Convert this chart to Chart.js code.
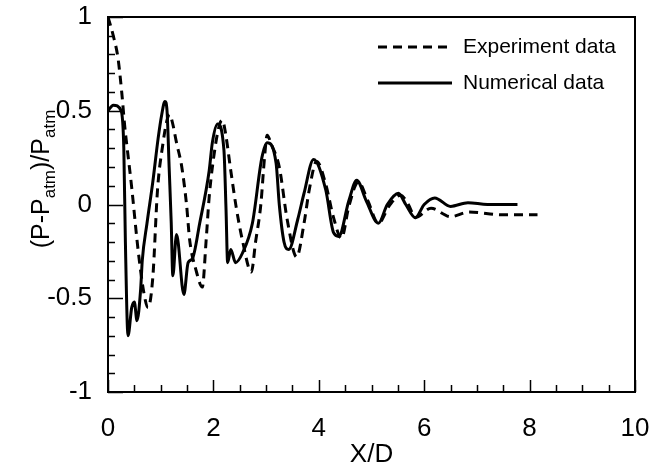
<!DOCTYPE html>
<html>
<head>
<meta charset="utf-8">
<script src="https://cdn.jsdelivr.net/npm/chart.js@4.4.0/dist/chart.umd.min.js"></script>
<style>
  body { margin: 0; background: #fff; }
  canvas { display: block; }
</style>
</head>
<body>
<canvas id="myChart" width="649" height="470"></canvas>
<script>
// tick values on each axis
var xTicks = [0, 2, 4, 6, 8, 10];
var yTicks = [-1, -0.5, 0, 0.5, 1];

// experiment (dashed)
var expX = [0, 0.1, 0.19, 0.26, 0.32, 0.36, 0.45, 0.57, 0.68, 0.76, 0.85, 0.94, 1.04, 1.12, 1.17, 1.22, 1.3, 1.4, 1.49, 1.55, 1.67, 1.79, 1.86, 1.92, 2.03, 2.12, 2.17, 2.23, 2.33, 2.43, 2.55, 2.72, 2.8, 2.9, 2.97, 3.02, 3.1, 3.25, 3.4, 3.58, 3.72, 3.82, 3.96, 4.13, 4.28, 4.43, 4.57, 4.75, 4.93, 5.13, 5.33, 5.55, 5.7, 5.83, 6.13, 6.5, 6.85, 7.5, 8.15];
var expY = [1.0, 0.9, 0.78, 0.6, 0.41, 0.31, 0.09, -0.24, -0.47, -0.55, -0.39, 0.08, 0.32, 0.45, 0.48, 0.44, 0.33, 0.2, 0.0, -0.19, -0.35, -0.44, -0.2, 0.04, 0.3, 0.43, 0.45, 0.38, 0.18, -0.01, -0.19, -0.36, -0.2, 0.0, 0.25, 0.37, 0.32, 0.2, -0.08, -0.28, -0.1, 0.08, 0.23, 0.11, -0.07, -0.18, -0.01, 0.12, 0.02, -0.1, -0.01, 0.05, 0.0, -0.07, -0.02, -0.065, -0.04, -0.055, -0.055];

// numerical (solid)
var numX = [0, 0.1, 0.25, 0.3, 0.33, 0.38, 0.45, 0.5, 0.55, 0.62, 0.65, 0.74, 0.85, 0.95, 1.02, 1.08, 1.12, 1.16, 1.2, 1.23, 1.3, 1.44, 1.52, 1.6, 1.74, 1.92, 1.98, 2.08, 2.2, 2.24, 2.27, 2.33, 2.42, 2.55, 2.74, 2.92, 3.02, 3.19, 3.25, 3.34, 3.43, 3.6, 3.72, 3.9, 4.13, 4.28, 4.38, 4.57, 4.72, 4.9, 5.13, 5.3, 5.51, 5.65, 5.83, 6.0, 6.2, 6.5, 6.83, 7.2, 7.77];
var numY = [0.5, 0.53, 0.5, 0.3, -0.2, -0.7, -0.55, -0.52, -0.62, -0.45, -0.3, -0.1, 0.12, 0.35, 0.48, 0.55, 0.5, 0.2, -0.1, -0.38, -0.16, -0.48, -0.31, -0.29, -0.1, 0.18, 0.33, 0.43, 0.29, -0.03, -0.31, -0.24, -0.31, -0.26, -0.1, 0.25, 0.33, 0.22, 0.0, -0.2, -0.24, -0.08, 0.06, 0.24, 0.08, -0.15, -0.17, 0.02, 0.13, 0.02, -0.1, 0.0, 0.06, 0.0, -0.07, 0.0, 0.035, -0.01, 0.01, 0.0, 0.0];

function pts(xs, ys) {
    return xs.map(function (x, i) { return { x: x, y: ys[i] }; });
}

var FONT = 'Liberation Sans, Arial, sans-serif';

// frame + inward ticks
var framePlugin = {
    id: 'frame',
    afterDraw: function (chart) {
        var ctx = chart.ctx, a = chart.chartArea;
        var xs = chart.scales.x, ys = chart.scales.y;
        ctx.save();
        ctx.strokeStyle = '#000';
        ctx.lineWidth = 2;
        ctx.strokeRect(a.left, a.top, a.right - a.left, a.bottom - a.top);
        ctx.lineWidth = 1.5;
        ctx.beginPath();
        for (var i = 0; i <= 20; i++) {
            var v = i * 0.5;
            var px = Math.round(xs.getPixelForValue(v)) + 0.5;
            var len = (i % 4 === 0) ? 12 : 7;
            ctx.moveTo(px, a.bottom);
            ctx.lineTo(px, a.bottom - len);
        }
        for (var j = 0; j <= 20; j++) {
            var yv = -1 + j * 0.1;
            var py = Math.round(ys.getPixelForValue(yv)) + 0.5;
            var l2 = (j % 5 === 0) ? 15 : 7;
            ctx.moveTo(a.left, py);
            ctx.lineTo(a.left + l2, py);
        }
        ctx.stroke();
        ctx.restore();
    }
};

// y title with subscripts
var yTitlePlugin = {
    id: 'yTitle',
    afterDraw: function (chart) {
        var ctx = chart.ctx;
        var parts = [['(P-P', 0], ['atm', 1], [')/P', 0], ['atm', 1]];
        var big = '25px ' + FONT, small = '17px ' + FONT;
        ctx.save();
        var total = 0;
        parts.forEach(function (p) {
            ctx.font = p[1] ? small : big;
            total += ctx.measureText(p[0]).width;
        });
        ctx.translate(49, 179 + total / 2);
        ctx.rotate(-Math.PI / 2);
        ctx.fillStyle = '#000';
        ctx.textBaseline = 'alphabetic';
        var x = 0;
        parts.forEach(function (p) {
            ctx.font = p[1] ? small : big;
            ctx.fillText(p[0], x, p[1] ? 6 : 0);
            x += ctx.measureText(p[0]).width;
        });
        ctx.restore();
    }
};

// legend inside the plot
var legendPlugin = {
    id: 'innerLegend',
    afterDraw: function (chart) {
        var ctx = chart.ctx;
        var rows = [47, 83];
        ctx.save();
        chart.data.datasets.forEach(function (ds, i) {
            var y = rows[i];
            ctx.strokeStyle = '#000';
            ctx.lineWidth = ds.borderWidth;
            ctx.setLineDash(ds.borderDash || []);
            ctx.beginPath();
            ctx.moveTo(378, y);
            ctx.lineTo(452, y);
            ctx.stroke();
            ctx.setLineDash([]);
            ctx.fillStyle = '#000';
            ctx.font = '21px ' + FONT;
            ctx.textBaseline = 'middle';
            ctx.fillText(ds.label, 463, y);
        });
        ctx.restore();
    }
};

var chartData = {
    type: 'line',
    data: {
        datasets: [{
            label: 'Experiment data',
            data: pts(expX, expY),
            borderColor: '#000',
            borderWidth: 3,
            borderDash: [9, 6],
            pointRadius: 0,
            cubicInterpolationMode: 'monotone',
            fill: false
        }, {
            label: 'Numerical data',
            data: pts(numX, numY),
            borderColor: '#000',
            borderWidth: 3,
            pointRadius: 0,
            cubicInterpolationMode: 'monotone',
            fill: false
        }]
    },
    options: {
        responsive: false,
        animation: false,
        layout: { padding: { top: 17, right: 14, left: 0, bottom: 0 } },
        plugins: {
            legend: { display: false },
            tooltip: { enabled: false }
        },
        scales: {
            x: {
                type: 'linear',
                min: 0, max: 10,
                grid: { display: false, drawTicks: false },
                border: { display: false },
                afterBuildTicks: function (s) { s.ticks = xTicks.map(function (v) { return { value: v }; }); },
                afterFit: function (s) { s.height = 78; s.paddingLeft = 0; s.paddingRight = 0; },
                ticks: {
                    color: '#000',
                    padding: 21,
                    maxRotation: 0,
                    font: { family: FONT, size: 26 },
                    callback: function (v) { return String(v); }
                },
                title: {
                    display: true,
                    text: 'X/D',
                    color: '#000',
                    padding: { top: 2, bottom: 0 },
                    font: { family: FONT, size: 26 }
                }
            },
            y: {
                type: 'linear',
                min: -1, max: 1,
                grid: { display: false, drawTicks: false },
                border: { display: false },
                afterBuildTicks: function (s) { s.ticks = yTicks.map(function (v) { return { value: v }; }); },
                afterFit: function (s) { s.width = 108; s.paddingTop = 0; s.paddingBottom = 0; },
                ticks: {
                    color: '#000',
                    padding: 16,
                    font: { family: FONT, size: 26 },
                    callback: function (v) { return String(v); }
                }
            }
        }
    },
    plugins: [framePlugin, yTitlePlugin, legendPlugin]
};

var chartArea = document.getElementById('myChart').getContext('2d');
var myChart = new Chart(chartArea, chartData);
</script>
</body>
</html>
